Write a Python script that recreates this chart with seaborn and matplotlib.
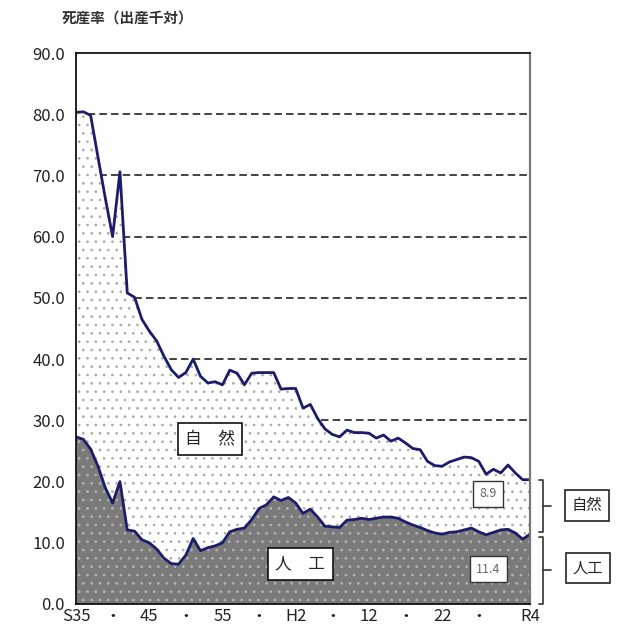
import matplotlib
matplotlib.use("Agg")
import matplotlib.pyplot as plt
import matplotlib.transforms as mtransforms
import seaborn as sns
import pandas as pd
import numpy as np

# ---- data ----
years = list(range(1960, 2023))
total = [80.3, 80.4, 79.8, 73.0, 66.3, 60.0, 70.6, 50.8, 50.1, 46.5,
         44.6, 43.0, 40.5, 38.3, 37.0, 37.8, 40.0, 37.2, 36.1, 36.3,
         35.8, 38.2, 37.7, 35.8, 37.7, 37.8, 37.8, 37.8, 35.1, 35.2,
         35.2, 32.0, 32.6, 30.3, 28.6, 27.7, 27.3, 28.4, 28.0, 28.0,
         27.9, 27.1, 27.6, 26.6, 27.1, 26.3, 25.4, 25.2, 23.3, 22.6,
         22.5, 23.2, 23.6, 24.0, 23.9, 23.3, 21.2, 22.0, 21.4, 22.7,
         21.4, 20.3, 20.3]
artificial = [27.3, 26.9, 25.3, 22.5, 19.0, 16.5, 20.0, 12.1, 11.9, 10.5,
              10.0, 9.0, 7.5, 6.6, 6.5, 8.0, 10.7, 8.7, 9.2, 9.5,
              10.0, 11.8, 12.2, 12.4, 13.8, 15.6, 16.2, 17.5, 16.9, 17.4,
              16.5, 14.8, 15.5, 14.2, 12.7, 12.6, 12.5, 13.7, 13.8, 14.0,
              13.8, 14.0, 14.2, 14.2, 14.0, 13.4, 12.9, 12.5, 12.0, 11.6,
              11.4, 11.7, 11.8, 12.1, 12.4, 11.8, 11.3, 11.7, 12.1, 12.2,
              11.6, 10.6, 11.4]
tick_years = [1960, 1965, 1970, 1975, 1980, 1985, 1990, 1995, 2000, 2005, 2010, 2015, 2022]
tick_labels = ["S35", "・", "45", "・", "55", "・", "H2", "・", "12", "・", "22", "・", "R4"]
y_ticks = [0, 10, 20, 30, 40, 50, 60, 70, 80, 90]
latest_natural = "8.9"
latest_artificial = "11.4"
title = "死産率（出産千対）"

df = pd.DataFrame({"year": years, "total": total, "artificial": artificial})

# ---- style ----
sns.set_theme(style="white")
plt.rcParams["font.family"] = ["Noto Sans CJK JP", "DejaVu Sans"]

fig = plt.figure(figsize=(6.23, 6.37), dpi=100)
ax = fig.add_axes([76 / 623, 1 - 604 / 637, 454 / 623, 551 / 637])

navy = "#1c1c6b"

# natural (upper) area: white with gray dots
plt.rcParams["hatch.linewidth"] = 0.7
plt.rcParams["hatch.color"] = "#aaaaaa"
ax.fill_between(df["year"], df["artificial"], df["total"], facecolor="white",
                edgecolor="#aaaaaa", hatch="..", linewidth=0, zorder=1)
# artificial (lower) area: gray with light dots
plt.rcParams["hatch.color"] = "#b4b4b4"
ax.fill_between(df["year"], 0, df["artificial"], facecolor="#7a7a7a",
                edgecolor="#b4b4b4", hatch="..", linewidth=0, zorder=1)

sns.lineplot(data=df, x="year", y="total", ax=ax, color=navy, lw=2.0, zorder=3)
sns.lineplot(data=df, x="year", y="artificial", ax=ax, color=navy, lw=2.0, zorder=3)

ax.set_xlim(1960, 2022)
ax.set_ylim(0, 90)
ax.set_xlabel("")
ax.set_ylabel("")

# gridlines
for v in y_ticks[1:-1]:
    ax.axhline(v, color="#222222", lw=1.2, ls=(0, (4.5, 2.5)), zorder=0.5)

ax.set_yticks(y_ticks)
ax.set_yticklabels([f"{v:.1f}" for v in y_ticks], fontsize=12)
ax.set_xticks(tick_years)
ax.set_xticklabels(tick_labels, fontsize=12)
ax.set_xticks(years, minor=True)
ax.tick_params(axis="x", which="major", direction="in", length=4, pad=3, color="#333333")
ax.tick_params(axis="x", which="minor", direction="in", length=3, color="#333333")
ax.tick_params(axis="y", which="major", direction="in", length=4, pad=8, color="#333333")
ax.tick_params(axis="both", labelcolor="#222222")

for s in ["left", "top", "bottom"]:
    ax.spines[s].set_color("#111111")
    ax.spines[s].set_linewidth(1.3)
ax.spines["right"].set_color("#777777")
ax.spines["right"].set_linewidth(1.6)
for s in ax.spines.values():
    s.set_zorder(5)

# title
fig.text(62 / 623, 1 - 18 / 637, title, fontsize=10.5, fontweight="bold",
         ha="left", va="center", color="#333333")

# in-chart labels
box = dict(boxstyle="square,pad=0.45", fc="white", ec="#111111", lw=1.2)
ax.text(1978.3, 26.9, "自　然", fontsize=12, ha="center", va="center", bbox=box, zorder=6)
ax.text(1990.6, 6.6, "人　工", fontsize=12, ha="center", va="center", bbox=box, zorder=6)

vbox = dict(boxstyle="square,pad=0.5", fc="white", ec="#333333", lw=1.0)
ax.text(2016.3, 18.0, latest_natural, fontsize=9, ha="center", va="center", color="#666666",
        bbox=vbox, zorder=6)
ax.text(2016.3, 5.7, latest_artificial, fontsize=9, ha="center", va="center", color="#666666",
        bbox=vbox, zorder=6)

# braces outside the axes
trans = mtransforms.blended_transform_factory(ax.transAxes, ax.transData)
xl, xm, xr = 1.019, 1.028, 1.047
nat_top = total[-1]
art_top = artificial[-1]
for lo, hi in [(art_top + 0.4, nat_top), (0, art_top - 0.4)]:
    mid = (lo + hi) / 2
    ax.plot([xl, xm, xm, xl], [hi, hi, lo, lo], transform=trans, color="#333333",
            lw=1.2, clip_on=False)
    ax.plot([xm, xr], [mid, mid], transform=trans, color="#333333", lw=1.2, clip_on=False)

obox = dict(boxstyle="square,pad=0.45", fc="white", ec="#222222", lw=1.2)
ax.text(1.126, (art_top + nat_top) / 2 + 0.3, "自然", transform=trans, fontsize=11,
        ha="center", va="center", bbox=obox, clip_on=False)
ax.text(1.128, art_top / 2 + 0.2, "人工", transform=trans, fontsize=11,
        ha="center", va="center", bbox=obox, clip_on=False)

fig.savefig("out.png", dpi=100, facecolor="white")
